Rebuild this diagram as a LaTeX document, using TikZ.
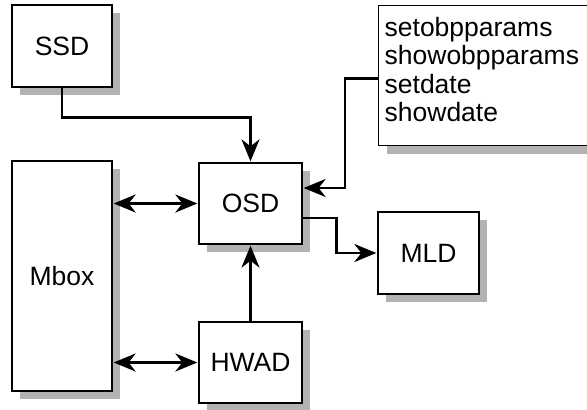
\documentclass[tikz,border=0pt]{standalone}
\usepackage{fontspec}
\setmainfont{Liberation Sans}
\usetikzlibrary{arrows.meta,shadows}
\begin{document}
\begin{tikzpicture}[x=1pt,y=-1pt,
  box/.style={draw=black, line width=1.3pt, fill=white, rectangle, inner sep=0pt,
    font=\fontsize{26.5}{28.3}\selectfont,
    drop shadow={shadow xshift=8pt, shadow yshift=-8pt, fill=black!30, opacity=1}},
  tip/.tip={Stealth[length=22pt,width=18pt,inset=7pt]},
  arr/.style={line width=2.6pt, -tip, shorten >=1pt},
  biarr/.style={line width=2.6pt, tip-tip, shorten >=1pt, shorten <=1pt}]
\useasboundingbox (0,0) rectangle (587,410);
\clip (0,0) rectangle (587,410);
\node[box, minimum width=100pt, minimum height=82pt] (SSD) at (62,46) {SSD};
\node[box, minimum width=100pt, minimum height=230pt] (Mbox) at (62,276) {Mbox};
\node[box, minimum width=103pt, minimum height=81pt] (OSD) at (250.5,203.5) {OSD};
\node[box, minimum width=103pt, minimum height=81pt] (HWAD) at (250.5,362.5) {HWAD};
\node[box, minimum width=101pt, minimum height=82pt] (MLD) at (428.5,253) {MLD};
\node[box, anchor=north west, minimum width=214pt, minimum height=140pt, align=left, inner xsep=6pt, text width=202pt] (cmds) at (378,5) {setobpparams\\showobpparams\\setdate\\showdate\\[-16pt]\mbox{}};
\draw[arr] (SSD.south) -- ++(0,30) -| (OSD.north);
\draw[arr] (cmds.west) ++(0,3) -- ++(-33,0) |- ([yshift=15.5pt]OSD.east);
\draw[arr] ([yshift=-14.5pt]OSD.east) -- ++(34,0) |- (MLD.west);
\draw[biarr] (Mbox.east |- OSD.west) -- (OSD.west);
\draw[biarr] (Mbox.east |- HWAD.west) -- (HWAD.west);
\draw[arr] (HWAD.north) -- (OSD.south);
\end{tikzpicture}
\end{document}
